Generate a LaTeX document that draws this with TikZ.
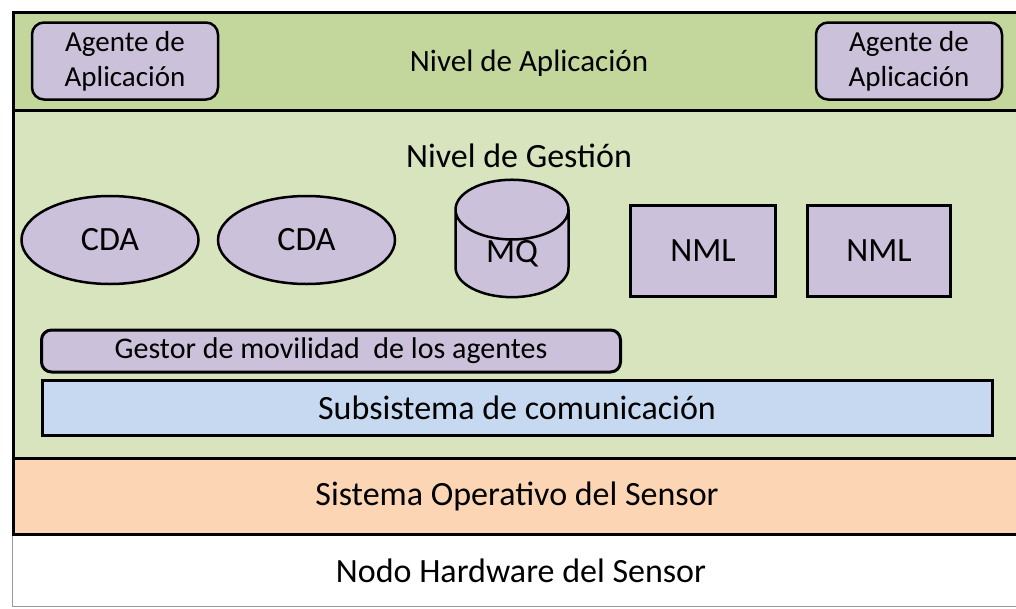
\documentclass[tikz,border=0pt]{standalone}
\usepackage{fontspec}
\setmainfont{Carlito}
\usetikzlibrary{positioning,shapes.geometric}
\definecolor{verdeapl}{RGB}{195,214,155}
\definecolor{verdeges}{RGB}{215,228,189}
\definecolor{lila}{RGB}{204,193,218}
\definecolor{azulclaro}{RGB}{198,217,241}
\definecolor{naranja}{RGB}{252,213,181}
\definecolor{gris60}{gray}{.60}

\begin{document}
\begin{tikzpicture}[
    x=1pt, y=-1pt,
    font=\fontsize{34}{38}\selectfont,
    nivel/.style={rectangle, draw=black, line width=3pt, anchor=north west,
      minimum width=1010pt, inner sep=0pt},
    agente/.style={rectangle, draw=black, line width=2.5pt, rounded corners=12pt,
      fill=lila, minimum width=186pt, minimum height=77pt, align=center,
      inner sep=0pt, font=\fontsize{29}{35}\selectfont},
    cda/.style={ellipse, draw=black, line width=2.5pt, fill=lila,
      minimum width=177pt, minimum height=88pt, inner sep=0pt},
    cola/.style={cylinder, shape border rotate=90, aspect=1.15, draw=black,
      line width=2.5pt, fill=lila, minimum width=113pt, minimum height=109pt,
      inner sep=0pt},
    nml/.style={rectangle, draw=black, line width=3pt, fill=lila,
      minimum width=145pt, minimum height=91pt, inner sep=0pt},
    barra/.style={rectangle, draw=black, line width=3pt, inner sep=0pt}
  ]
    \useasboundingbox (0,0) rectangle (1016,608);
    % niveles
    \node[nivel, fill=white, draw=gris60, line width=1pt, minimum height=73pt] (hw) at (12,533) {};
    \node[nivel, fill=naranja, minimum height=76pt] (so) at (12,457) {};
    \node[nivel, fill=verdeges, minimum height=348pt] (gestion) at (12,109) {};
    \node[nivel, fill=verdeapl, minimum height=98pt] (aplicacion) at (12,11) {};
    \node[font=\fontsize{31}{34}\selectfont] (txtapl) at (529,63) {Nivel de Aplicación};
    \node (txtges) at (519,156) {Nivel de Gestión};
    \node (txtso) at (517,496) {Sistema Operativo del Sensor};
    \node (txthw) at (521,571) {Nodo Hardware del Sensor};
    % agentes
    \node[agente] (agente1) at (125,61) {Agente de\\Aplicación};
    \node[agente] (agente2) at (909,61) {Agente de\\Aplicación};
    % gestion
    \node[cda] (cda1) at (110,240) {CDA};
    \node[cda, right=17pt of cda1] (cda2) {CDA};
    \node[cola] (mq) at (512,254) {MQ};
    \node[nml] (nml1) at (703,251) {NML};
    \node[nml, minimum width=143pt, right=29pt of nml1] (nml2) {NML};
    \node[barra, fill=lila, rounded corners=10pt, minimum width=579pt,
      minimum height=42pt, font=\fontsize{30}{33}\selectfont] (gestor) at (331,351)
      {Gestor de movilidad\ \ de los agentes};
    \node[barra, fill=azulclaro, minimum width=950pt, minimum height=55pt]
      (subsis) at (517,408) {Subsistema de comunicación};
  \end{tikzpicture}
\end{document}
